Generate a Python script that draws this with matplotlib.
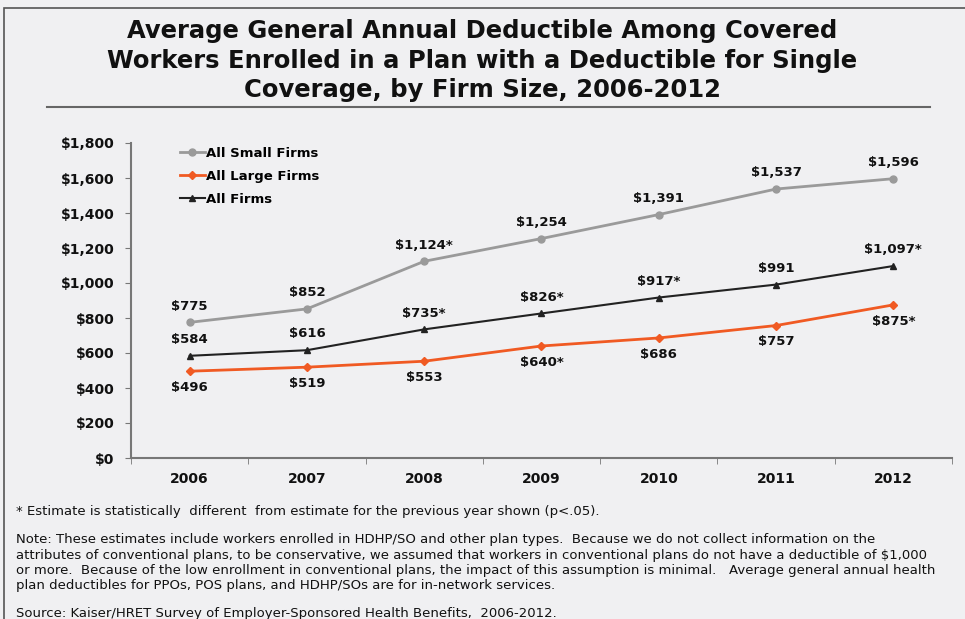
import matplotlib.pyplot as plt
from matplotlib.patches import Rectangle
from matplotlib.lines import Line2D

years = ["2006", "2007", "2008", "2009", "2010", "2011", "2012"]
small_firms = [775, 852, 1124, 1254, 1391, 1537, 1596]
large_firms = [496, 519, 553, 640, 686, 757, 875]
all_firms = [584, 616, 735, 826, 917, 991, 1097]
small_labels = ["$775", "$852", "$1,124*", "$1,254", "$1,391", "$1,537", "$1,596"]
large_labels = ["$496", "$519", "$553", "$640*", "$686", "$757", "$875*"]
all_labels = ["$584", "$616", "$735*", "$826*", "$917*", "$991", "$1,097*"]
y_ticks = [0, 200, 400, 600, 800, 1000, 1200, 1400, 1600, 1800]

BG = "#f0f0f2"
GRAY = "#9a9a9a"
ORANGE = "#f05a23"
DARK = "#222222"

fig = plt.figure(figsize=(9.65, 6.19), dpi=100, facecolor=BG)

# slide frame
fig.add_artist(Rectangle((4 / 965, -0.05), 1.1, 1 - 8 / 619 + 0.05,
                         transform=fig.transFigure, fill=False,
                         edgecolor="#555555", linewidth=1.2))

title = ("Average General Annual Deductible Among Covered\n"
         "Workers Enrolled in a Plan with a Deductible for Single\n"
         "Coverage, by Firm Size, 2006-2012")
fig.text(0.5, 1 - 19 / 619, title, ha="center", va="top", fontsize=17.5,
         fontweight="bold", linespacing=1.3, color="#111111")
fig.add_artist(Line2D([47 / 965, 930 / 965], [1 - 107 / 619] * 2,
                      transform=fig.transFigure, color="#666666", linewidth=1.5))

ax = fig.add_axes([131 / 965, 1 - 458 / 619, (952 - 131) / 965, (458 - 143) / 619])
ax.set_facecolor(BG)
x = list(range(len(years)))

ax.plot(x, small_firms, color=GRAY, linewidth=2, marker="o", markersize=5,
        label="All Small Firms")
ax.plot(x, large_firms, color=ORANGE, linewidth=2, marker="D", markersize=4,
        label="All Large Firms")
ax.plot(x, all_firms, color=DARK, linewidth=1.5, marker="^", markersize=4,
        label="All Firms")

lab_kw = dict(ha="center", fontsize=9.5, fontweight="bold", color="#111111")
for i in x:
    ax.annotate(small_labels[i], (i, small_firms[i]), xytext=(0, 7),
                textcoords="offset points", va="bottom", **lab_kw)
    ax.annotate(all_labels[i], (i, all_firms[i]), xytext=(0, 7),
                textcoords="offset points", va="bottom", **lab_kw)
    ax.annotate(large_labels[i], (i, large_firms[i]), xytext=(0, -7),
                textcoords="offset points", va="top", **lab_kw)

ax.set_xlim(-0.5, len(years) - 0.5)
ax.set_ylim(0, 1800)
ax.set_yticks(y_ticks)
ax.set_yticklabels([f"${v:,}" for v in y_ticks])
ax.set_xticks(x)
ax.set_xticklabels(years)
ax.set_xticks([i + 0.5 for i in range(-1, len(years))], minor=True)
ax.tick_params(axis="x", which="major", length=0, pad=10)
ax.tick_params(axis="x", which="minor", length=4, color="#777777")
ax.tick_params(axis="y", length=4, color="#777777", pad=8)
for lbl in ax.get_xticklabels() + ax.get_yticklabels():
    lbl.set_fontweight("bold")
    lbl.set_fontsize(10)
    lbl.set_color("#111111")
for side in ["top", "right"]:
    ax.spines[side].set_visible(False)
for side in ["left", "bottom"]:
    ax.spines[side].set_color("#777777")
    ax.spines[side].set_linewidth(1.5)

leg = ax.legend(loc="upper left", bbox_to_anchor=(0.045, 1.025), frameon=False,
                handlelength=1.9, handletextpad=0.1, labelspacing=0.75,
                prop={"weight": "bold", "size": 9.5})

note_kw = dict(fontsize=9.5, color="#111111", va="center")
fig.text(16 / 965, 1 - 512 / 619,
         "* Estimate is statistically  different  from estimate for the previous year shown (p<.05).",
         **note_kw)
note = ("Note: These estimates include workers enrolled in HDHP/SO and other plan types.  Because we do not collect information on the\n"
        "attributes of conventional plans, to be conservative, we assumed that workers in conventional plans do not have a deductible of $1,000\n"
        "or more.  Because of the low enrollment in conventional plans, the impact of this assumption is minimal.   Average general annual health\n"
        "plan deductibles for PPOs, POS plans, and HDHP/SOs are for in-network services.")
fig.text(16 / 965, 1 - 533 / 619, note, fontsize=9.5,
         color="#111111", va="top", linespacing=1.25)
fig.text(16 / 965, 1 - 614 / 619,
         "Source: Kaiser/HRET Survey of Employer-Sponsored Health Benefits,  2006-2012.",
         **note_kw)

fig.savefig("out.png", dpi=100, facecolor=BG)
